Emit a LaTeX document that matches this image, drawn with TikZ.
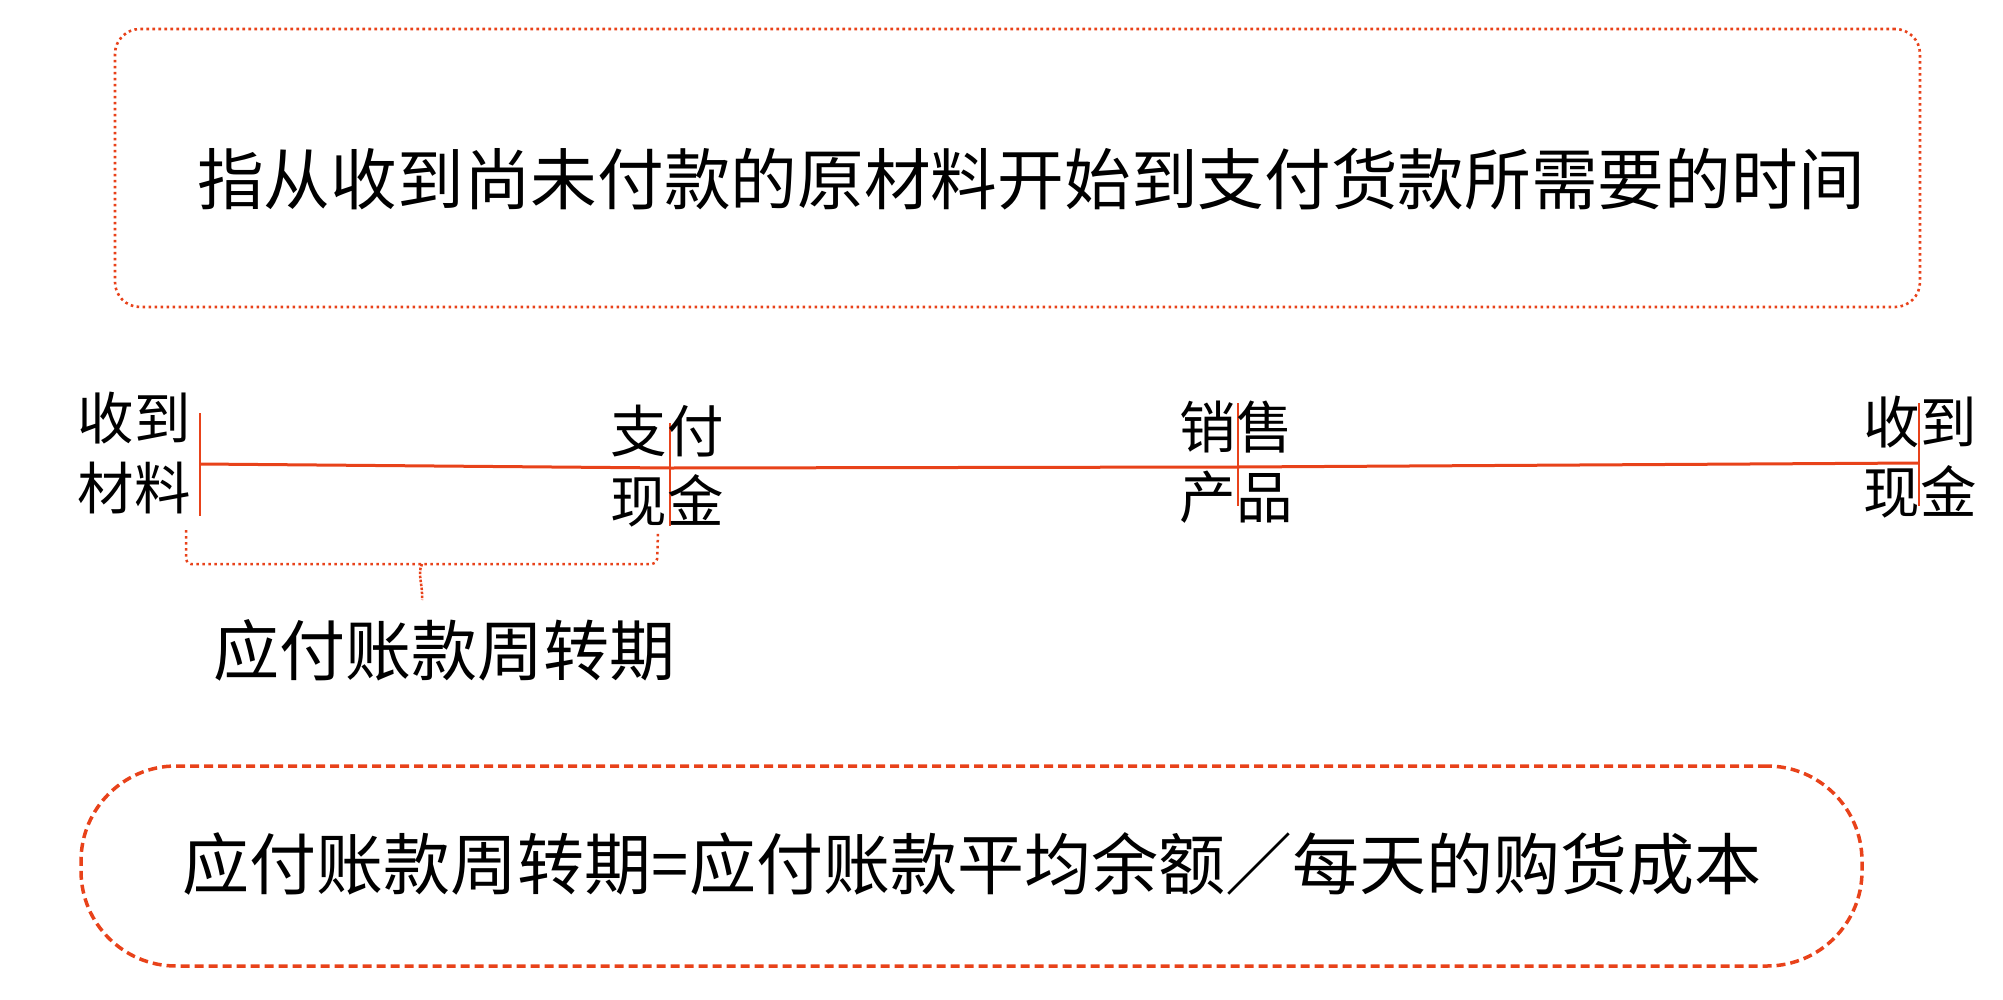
\documentclass[tikz,border=0pt]{standalone}
\usepackage{fontspec}
\newfontfamily\cjk{Noto Sans CJK SC}
\definecolor{accent}{RGB}{232,66,26}
\tikzset{
  topframe/.style={draw=accent, line width=2.6pt, dash pattern=on 2.6pt off 3.4pt, rounded corners=25pt, inner sep=0pt},
  botframe/.style={draw=accent, line width=3.5pt, dash pattern=on 9pt off 5pt, rounded corners=95pt, inner sep=0pt},
  tline/.style={draw=accent, line width=3pt},
  tickmark/.style={draw=accent, line width=2.2pt},
  bracepath/.style={draw=accent, line width=2.5pt, dash pattern=on 2.5pt off 3.5pt, rounded corners=5pt},
  stempath/.style={draw=accent, line width=2.5pt, dash pattern=on 2.5pt off 1.5pt},
  lbl/.style={font={\cjk\fontsize{56.5pt}{70pt}\selectfont}, align=center, inner sep=0pt},
  bigtxt/.style={font={\cjk\fontsize{#1}{#1}\selectfont}, inner sep=0pt}
}
\begin{document}
\begin{tikzpicture}[x=1pt,y=-1pt]
\useasboundingbox (0,0) rectangle (2003,999);
% top frame and text
\node[topframe, minimum width=1805pt, minimum height=278pt] (frame1) at (1017.5,168) {};
\node[bigtxt=66.7pt] (toptext) at (1031,179) {指从收到尚未付款的原材料开始到支付货款所需要的时间};
% timeline coordinates
\coordinate (p1) at (200,464);
\coordinate (p2) at (670,468);
\coordinate (p3) at (1238,467);
\coordinate (p4) at (1919,463);
\coordinate (t1a) at (200,413); \coordinate (t1b) at (200,516);
\coordinate (t2a) at (670,423); \coordinate (t2b) at (670,526);
\coordinate (t3a) at (1238,403); \coordinate (t3b) at (1238,506);
\coordinate (t4a) at (1919,403); \coordinate (t4b) at (1919,506);
\draw[tline] (p1) -- (p2) -- (p3) -- (p4);
\draw[tickmark] (t1a) -- (t1b);
\draw[tickmark] (t2a) -- (t2b);
\draw[tickmark] (t3a) -- (t3b);
\draw[tickmark] (t4a) -- (t4b);
% labels
\node[lbl] (l1) at (134,453) {收到\\材料};
\node[lbl] (l2) at (667,466) {支付\\现金};
\node[lbl] (l3) at (1236,462) {销售\\产品};
\node[lbl] (l4) at (1920,457) {收到\\现金};
% brace
\coordinate (ba) at (186,530);
\coordinate (bb) at (658,533);
\coordinate (bc) at (657,564);
\coordinate (bm) at (422,564);
\coordinate (bs) at (422,600);
\draw[bracepath] (ba) |- (bc) -- (bb);
\draw[stempath] (bm) .. controls (417,574) and (423,584) .. (bs);
\node[bigtxt=66pt] (blabel) at (444,650) {应付账款周转期};
% bottom frame and formula
\node[botframe, minimum width=1781pt, minimum height=200pt] (frame2) at (971.5,866) {};
\node[bigtxt=67pt] (formula) at (972,864) {应付账款周转期=应付账款平均余额／每天的购货成本};
\end{tikzpicture}
\end{document}
